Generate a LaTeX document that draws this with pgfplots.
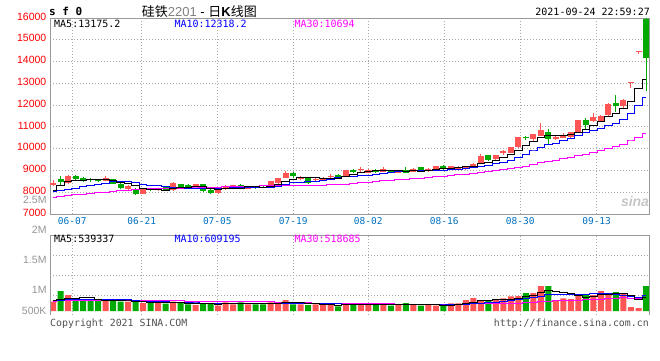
\documentclass[border=0pt]{standalone}
\usepackage{pgfplots}
\pgfplotsset{compat=1.18}
\usepackage{pgfplotstable}
\usepackage{fontspec}
\setmainfont{Liberation Sans}
\newfontfamily\monof{DejaVu Sans Mono}
\newfontfamily\cjk{Noto Sans CJK SC}
\definecolor{cred}{RGB}{255,85,85}
\definecolor{cgreen}{RGB}{0,170,0}
\definecolor{tickred}{RGB}{255,0,0}
\definecolor{datecol}{RGB}{0,112,192}
\definecolor{bordercol}{RGB}{153,153,153}
\definecolor{gridcol}{RGB}{170,170,170}
\definecolor{lblgray}{RGB}{150,150,150}
\definecolor{ma10col}{RGB}{0,0,255}
\definecolor{ma30col}{RGB}{255,0,255}
\definecolor{footcol}{RGB}{80,80,80}

% red (rising) days: index open high low close volume(K)
\pgfplotstableread{
i o h l c v
0 8320 8550 8270 8430 373
2 8410 8770 8380 8745 640
7 8530 8730 8500 8650 440
10 8165 8320 8100 8285 373
12 7935 8180 7900 8150 320
14 8110 8190 8070 8140 320
16 8080 8450 8050 8420 373
19 8280 8400 8250 8360 240
22 7970 8170 7930 8160 213
23 8130 8310 8100 8290 347
24 8200 8350 8170 8320 267
26 8165 8300 8130 8280 267
29 8240 8520 8230 8500 347
30 8420 8660 8400 8650 293
31 8650 8975 8640 8900 440
33 8600 8750 8550 8650 267
35 8560 8650 8500 8600 267
36 8545 8700 8520 8650 240
37 8700 8850 8650 8760 267
39 8690 9010 8680 9000 320
41 9020 9150 8950 9080 280
42 8900 9060 8890 9040 280
44 8950 9150 8930 9080 240
46 8900 9010 8880 8990 240
48 8950 9100 8930 9080 240
50 8960 9120 8940 9080 240
51 9020 9220 9000 9200 213
53 9040 9220 9020 9200 307
54 9050 9190 9030 9170 307
55 9050 9200 9030 9190 440
56 9150 9320 9130 9310 520
57 9340 9770 9320 9650 440
59 9510 9700 9480 9690 440
60 9780 9920 9720 9875 507
61 9815 10080 9800 10060 587
62 10060 10530 10040 10520 600
64 10460 10680 10300 10660 720
65 10580 11170 10560 10840 1000
67 10460 10640 10380 10520 440
68 10490 10720 10470 10640 507
69 10520 10780 10500 10760 480
70 10730 11310 10720 11300 680
72 11250 11620 11230 11470 640
73 11280 11560 11260 11500 800
74 11530 12090 11500 12060 640
76 11940 12300 11860 12215 680
77 13025 13070 12800 13070 160
78 14435 14480 14360 14480 120
}\redtab

% green (falling) days
\pgfplotstableread{
i o h l c v
1 8590 8750 8350 8470 800
3 8745 8800 8560 8590 440
4 8650 8700 8480 8530 440
5 8620 8660 8480 8545 420
6 8590 8620 8480 8500 420
8 8590 8610 8370 8400 400
9 8400 8420 8170 8195 373
11 8165 8180 7850 7920 373
13 8150 8200 8050 8110 333
15 8240 8270 8060 8090 293
17 8360 8380 8220 8240 320
18 8350 8380 8150 8190 267
20 8360 8370 8000 8040 320
21 8120 8140 7930 7980 293
25 8350 8380 8140 8190 347
27 8260 8300 8150 8200 267
28 8250 8300 8180 8200 267
32 8880 8950 8650 8730 267
34 8650 8720 8400 8420 240
38 8810 8850 8650 8690 187
40 9020 9080 8880 8910 240
43 9040 9080 8890 8920 280
45 8990 9020 8860 8880 213
47 9030 9150 8860 8880 320
49 9160 9180 9000 9020 213
52 9200 9230 9030 9050 213
58 9690 9720 9420 9480 413
63 10540 10600 10400 10500 720
66 10760 10900 10230 10430 1000
71 11300 11400 10900 11100 640
75 12110 12450 11700 11950 760
79 15960 16000 12640 14150 1000
}\greentab

% moving averages: price MA5 MA10 MA30, volume MA5 MA10 MA30 (K)
\pgfplotstableread{
i m5 m10 m30 v5 v10 v30
0 8090 8040 7752 420 430 380
1 8300 8080 7790 480 440 410
2 8480 8130 7830 500 450 430
3 8560 8190 7880 520 455 435
4 8553 8250 7910 539 460 435
5 8576 8310 7950 548 465 435
6 8582 8360 7970 472 470 435
7 8563 8420 8000 432 472 435
8 8525 8480 8030 424 474 435
9 8458 8506 8060 411 475 435
10 8406 8491 8090 401 475 435
11 8290 8436 8120 392 432 435
12 8190 8377 8150 368 400 430
13 8132 8329 8160 354 389 425
14 8121 8290 8170 344 377 420
15 8082 8244 8170 328 365 420
16 8182 8236 8180 328 360 410
17 8200 8195 8185 328 348 405
18 8216 8174 8190 315 335 400
19 8260 8191 8195 299 321 395
20 8250 8166 8215 304 316 390
21 8162 8172 8225 288 308 385
22 8146 8173 8235 267 297 380
23 8166 8191 8245 283 299 378
24 8158 8209 8255 288 293 375
25 8188 8219 8265 293 299 372
26 8248 8205 8275 288 288 370
27 8256 8201 8285 299 283 367
28 8238 8202 8295 283 283 365
29 8274 8216 8304 299 294 363
30 8366 8277 8311 288 291 360
31 8490 8369 8326 323 306 348
32 8596 8426 8325 323 311 336
33 8686 8462 8327 323 303 330
34 8670 8472 8323 301 300 324
35 8660 8513 8325 296 292 318
36 8610 8550 8330 256 290 312
37 8616 8606 8334 256 290 307
38 8624 8655 8344 240 282 300
39 8740 8705 8370 256 279 298
40 8802 8731 8391 251 274 293
41 8888 8749 8430 259 258 290
42 8944 8780 8460 261 259 289
43 8990 8807 8487 280 260 287
44 9006 8873 8518 264 260 285
45 9000 8901 8544 259 255 282
46 8982 8935 8563 251 255 277
47 8950 8947 8585 259 260 277
48 8982 8986 8614 251 265 277
49 8970 8988 8636 245 255 276
50 9010 9005 8671 251 255 273
51 9052 9017 8712 245 248 270
52 9086 9018 8741 224 241 270
53 9110 9046 8772 237 244 269
54 9140 9055 8800 256 251 270
55 9162 9086 8833 296 273 273
56 9184 9118 8870 357 301 282
57 9304 9195 8917 403 313 288
58 9360 9235 8959 424 331 292
59 9464 9302 8998 451 353 296
60 9601 9382 9039 464 380 303
61 9751 9468 9078 477 417 308
62 9925 9615 9138 509 456 319
63 10129 9745 9199 571 497 334
64 10323 9894 9274 627 539 350
65 10516 10059 9349 725 595 374
66 10590 10171 9408 808 643 400
67 10590 10258 9467 776 643 405
68 10618 10374 9532 733 652 416
69 10638 10481 9590 685 656 421
70 10730 10623 9670 621 673 436
71 10864 10727 9737 549 679 448
72 11054 10822 9818 589 683 460
73 11226 10922 9904 648 691 477
74 11486 11062 10004 680 683 491
75 11616 11173 10106 696 659 509
76 11839 11352 10213 704 627 524
77 12159 11607 10353 608 599 518
78 12755 11991 10533 472 560 514
79 13173 12330 10704 544 612 540
}\matab

\begin{document}
\begin{tikzpicture}
\useasboundingbox (0pt,0pt) rectangle (660pt,-360pt);

% ---------------- price panel ----------------
\begin{axis}[
  name=price,
  at={(50pt,-18pt)}, anchor=north west,
  scale only axis, width=599pt, height=196pt,
  xmin=-0.4, xmax=79.4, ymin=7000, ymax=16000,
  scaled x ticks=false, scaled y ticks=false,
  xtick={2.57,11.82,21.89,32.01,42.0,52.12,62.25,72.42},
  xticklabels={06-07,06-21,07-05,07-19,08-02,08-16,08-30,09-13},
  ytick={7000,8000,9000,10000,11000,12000,13000,14000,15000,16000},
  yticklabels={7000,8000,9000,10000,11000,12000,13000,14000,15000,16000},
  xticklabel style={font=\monof\fontsize{9.5}{11}\selectfont, text=datecol, inner sep=0pt, yshift=-3pt},
  yticklabel style={font=\fontsize{10.5}{12}\selectfont, text=tickred, inner sep=0pt, xshift=-3.5pt, yshift=1.5pt},
  major tick length=0pt,
  grid=major,
  major grid style={draw=gridcol, line width=1pt, dash pattern=on 1pt off 2pt},
  axis line style={draw=bordercol, line width=1pt},
]
% wicks
\addplot[draw=none, mark=none, forget plot, error bars/.cd, y dir=plus, y explicit, error mark=none, error bar style={draw=cred, line width=1pt}]
  table[x=i, y=l, y error plus expr=\thisrow{h}-\thisrow{l}] {\redtab};
\addplot[draw=none, mark=none, forget plot, error bars/.cd, y dir=plus, y explicit, error mark=none, error bar style={draw=cgreen, line width=1pt}]
  table[x=i, y=l, y error plus expr=\thisrow{h}-\thisrow{l}] {\greentab};
% bodies
\addplot[draw=none, mark=none, forget plot, error bars/.cd, y dir=plus, y explicit, error mark=none, error bar style={draw=cred, line width=6pt}]
  table[x=i, y=o, y error plus expr=\thisrow{c}-\thisrow{o}] {\redtab};
\addplot[draw=none, mark=none, forget plot, error bars/.cd, y dir=plus, y explicit, error mark=none, error bar style={draw=cgreen, line width=6pt}]
  table[x=i, y=c, y error plus expr=\thisrow{o}-\thisrow{c}] {\greentab};
% moving averages
\addplot[const plot mark mid, draw=ma30col, line width=1pt, mark=none] table[x=i, y=m30] {\matab};
\addplot[const plot mark mid, draw=ma10col, line width=1pt, mark=none] table[x=i, y=m10] {\matab};
\addplot[const plot mark mid, draw=black, line width=1pt, mark=none] table[x=i, y=m5] {\matab};
\end{axis}

% ---------------- volume panel ----------------
\begin{axis}[
  name=vol,
  at={(50pt,-235pt)}, anchor=north west,
  scale only axis, width=599pt, height=80pt,
  xmin=-0.4, xmax=79.4, ymin=-160, ymax=3040,
  scaled x ticks=false, scaled y ticks=false,
  xtick={2.57,11.82,21.89,32.01,42.0,52.12,62.25,72.42},
  xticklabels={},
  ytick={640,1440,2240}, yticklabels={},
  major tick length=0pt,
  grid=major,
  major grid style={draw=gridcol, line width=1pt, dash pattern=on 1pt off 2pt},
  axis line style={draw=none},
]
\addplot[ybar, bar width=6pt, bar shift=0pt, fill=cred, draw=none] table[x=i, y=v] {\redtab};
\addplot[ybar, bar width=6pt, bar shift=0pt, fill=cgreen, draw=none] table[x=i, y=v] {\greentab};
\addplot[const plot mark mid, draw=ma30col, line width=1pt, mark=none] table[x=i, y=v30] {\matab};
\addplot[const plot mark mid, draw=ma10col, line width=1pt, mark=none] table[x=i, y=v10] {\matab};
\addplot[const plot mark mid, draw=black, line width=1pt, mark=none] table[x=i, y=v5] {\matab};
\end{axis}
\draw[bordercol, line width=1pt] (vol.south west) -- (vol.north west) -- (vol.north east) -- (vol.south east);

% ---------------- texts ----------------
\node[anchor=west, inner sep=0pt, font=\monof\bfseries\fontsize{11}{13}\selectfont] at (49pt,-11.5pt) {s f 0};
\node[anchor=west, inner sep=0pt, font=\fontsize{13}{15}\selectfont] at (141.7pt,-12pt) {{\cjk 硅铁}{\color{gray}2201} - {\cjk 日}{\bfseries K}{\cjk 线图}};
\node[anchor=east, inner sep=0pt, font=\monof\fontsize{10}{12}\selectfont] at (650pt,-11.5pt) {2021-09-24 22:59:27};

\node[anchor=west, inner sep=0pt, font=\monof\fontsize{10}{12}\selectfont, text=black] at (54pt,-23.7pt) {MA5:13175.2};
\node[anchor=west, inner sep=0pt, font=\monof\fontsize{10}{12}\selectfont, text=ma10col] at (174.3pt,-23.7pt) {MA10:12318.2};
\node[anchor=west, inner sep=0pt, font=\monof\fontsize{10}{12}\selectfont, text=ma30col] at (294.3pt,-23.7pt) {MA30:10694};

\node[anchor=west, inner sep=0pt, font=\monof\fontsize{10}{12}\selectfont, text=black] at (54pt,-238.7pt) {MA5:539337};
\node[anchor=west, inner sep=0pt, font=\monof\fontsize{10}{12}\selectfont, text=ma10col] at (174.3pt,-238.7pt) {MA10:609195};
\node[anchor=west, inner sep=0pt, font=\monof\fontsize{10}{12}\selectfont, text=ma30col] at (294.3pt,-238.7pt) {MA30:518685};

\node[anchor=east, inner sep=0pt, font=\fontsize{10.5}{12}\selectfont, text=lblgray] at (46.7pt,-199.7pt) {2.5M};
\node[anchor=east, inner sep=0pt, font=\fontsize{10.5}{12}\selectfont, text=lblgray] at (46.7pt,-230pt) {2M};
\node[anchor=east, inner sep=0pt, font=\fontsize{10.5}{12}\selectfont, text=lblgray] at (46.7pt,-259.7pt) {1.5M};
\node[anchor=east, inner sep=0pt, font=\fontsize{10.5}{12}\selectfont, text=lblgray] at (46.7pt,-290pt) {1M};
\node[anchor=east, inner sep=0pt, font=\fontsize{10.5}{12}\selectfont, text=lblgray] at (46.7pt,-311pt) {500K};

\node[inner sep=0pt, font=\bfseries\itshape\fontsize{14}{16}\selectfont, text=gray!45] at (635pt,-201pt) {sina};

\node[anchor=west, inner sep=0pt, font=\monof\fontsize{9.9}{12}\selectfont, text=footcol] at (50pt,-323.7pt) {Copyright 2021 SINA.COM};
\node[anchor=east, inner sep=0pt, font=\monof\fontsize{9.9}{12}\selectfont, text=footcol] at (649pt,-323.7pt) {http://finance.sina.com.cn};
\end{tikzpicture}
\end{document}
